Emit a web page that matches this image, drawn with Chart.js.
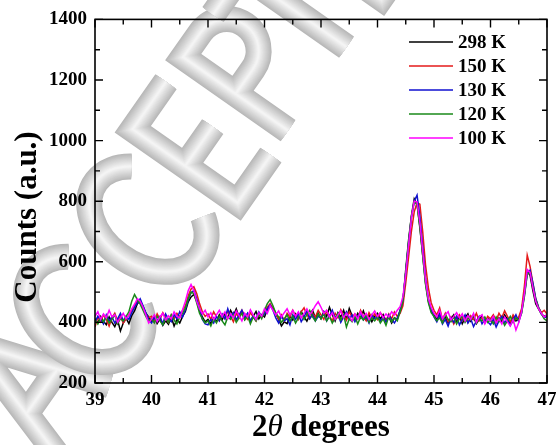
<!DOCTYPE html>
<html lang="en">
<head>
    <meta charset="UTF-8">
    <title>XRD 2theta scan</title>
    <script src="https://cdn.jsdelivr.net/npm/chart.js"></script>
    <style>
        html, body { margin: 0; padding: 0; background: #fff; }
        canvas { display: block; }
    </style>
</head>
<body>
    <canvas id="xrd" width="556" height="445"></canvas>
    <script>
        // scan positions (degrees 2theta)
        const twoTheta = [
            39.00, 39.05, 39.10, 39.15, 39.20, 39.25, 39.30, 39.35, 39.40, 39.45, 39.50, 39.55, 39.60, 39.65, 39.70, 39.75, 39.80, 39.85, 39.90, 39.95,
            40.00, 40.05, 40.10, 40.15, 40.20, 40.25, 40.30, 40.35, 40.40, 40.45, 40.50, 40.55, 40.60, 40.65, 40.70, 40.75, 40.80, 40.85, 40.90, 40.95,
            41.00, 41.05, 41.10, 41.15, 41.20, 41.25, 41.30, 41.35, 41.40, 41.45, 41.50, 41.55, 41.60, 41.65, 41.70, 41.75, 41.80, 41.85, 41.90, 41.95,
            42.00, 42.05, 42.10, 42.15, 42.20, 42.25, 42.30, 42.35, 42.40, 42.45, 42.50, 42.55, 42.60, 42.65, 42.70, 42.75, 42.80, 42.85, 42.90, 42.95,
            43.00, 43.05, 43.10, 43.15, 43.20, 43.25, 43.30, 43.35, 43.40, 43.45, 43.50, 43.55, 43.60, 43.65, 43.70, 43.75, 43.80, 43.85, 43.90, 43.95,
            44.00, 44.05, 44.10, 44.15, 44.20, 44.25, 44.30, 44.35, 44.40, 44.45, 44.50, 44.55, 44.60, 44.65, 44.70, 44.75, 44.80, 44.85, 44.90, 44.95,
            45.00, 45.05, 45.10, 45.15, 45.20, 45.25, 45.30, 45.35, 45.40, 45.45, 45.50, 45.55, 45.60, 45.65, 45.70, 45.75, 45.80, 45.85, 45.90, 45.95,
            46.00, 46.05, 46.10, 46.15, 46.20, 46.25, 46.30, 46.35, 46.40, 46.45, 46.50, 46.55, 46.60, 46.65, 46.70, 46.75, 46.80, 46.85, 46.90, 46.95,
            47.00
        ];

        const counts298 = [
            412, 398, 420, 404, 392, 418, 400, 386, 408, 372, 398, 414, 396, 422, 438, 462, 470, 452, 430, 418,
            402, 420, 396, 412, 390, 405, 394, 418, 388, 410, 398, 420, 436, 468, 484, 492, 470, 440, 418, 402,
            410, 396, 415, 402, 425, 408, 430, 415, 440, 422, 445, 418, 432, 410, 428, 404, 420, 436, 412, 426,
            418, 442, 455, 448, 430, 410, 388, 402, 396, 420, 408, 428, 412, 436, 418, 404, 425, 440, 415, 430,
            412, 436, 420, 450, 425, 405, 432, 418, 440, 410, 446, 422, 408, 430, 415, 438, 410, 425, 402, 420,
            430, 412, 426, 405, 420, 398, 415, 410, 440, 468, 575, 672, 752, 808, 790, 712, 622, 530, 470, 438,
            425, 410, 432, 405, 418, 398, 412, 425, 402, 420, 395, 415, 428, 404, 418, 396, 410, 422, 400, 414,
            405, 420, 398, 415, 402, 425, 410, 395, 418, 405, 412, 438, 495, 568, 555, 505, 462, 445, 428, 420,
            425
        ];
        const counts150 = [
            385, 418, 402, 425, 410, 388, 415, 430, 405, 420, 398, 412, 425, 440, 455, 472, 465, 448, 428, 415,
            420, 405, 428, 410, 432, 415, 400, 425, 412, 430, 418, 440, 455, 488, 510, 518, 495, 462, 435, 420,
            428, 410, 435, 418, 405, 425, 412, 438, 420, 402, 430, 415, 440, 422, 410, 432, 418, 405, 428, 415,
            435, 450, 462, 445, 428, 412, 425, 405, 430, 418, 440, 422, 410, 435, 448, 425, 412, 430, 418, 440,
            425, 410, 438, 420, 405, 430, 415, 442, 422, 408, 435, 418, 428, 412, 440, 420, 405, 432, 415, 428,
            410, 432, 418, 405, 428, 412, 435, 420, 430, 455, 530, 615, 700, 765, 795, 790, 700, 590, 515, 465,
            440, 425, 448, 410, 430, 402, 418, 395, 412, 425, 405, 418, 400, 422, 410, 430, 405, 415, 398, 420,
            412, 425, 405, 430, 415, 438, 420, 402, 425, 410, 418, 445, 520, 622, 585, 530, 478, 450, 432, 440,
            428
        ];
        const counts130 = [
            402, 420, 410, 395, 425, 405, 418, 398, 412, 430, 405, 420, 410, 432, 450, 465, 478, 455, 432, 410,
            398, 415, 405, 420, 395, 428, 410, 402, 425, 412, 435, 418, 442, 475, 498, 505, 478, 445, 410, 395,
            392, 410, 398, 420, 405, 428, 412, 445, 418, 432, 408, 425, 440, 415, 430, 405, 422, 412, 435, 420,
            428, 445, 458, 440, 415, 398, 420, 405, 412, 392, 425, 410, 430, 402, 418, 438, 412, 425, 405, 420,
            415, 430, 405, 422, 440, 412, 428, 400, 418, 435, 410, 425, 402, 420, 432, 408, 418, 398, 425, 412,
            420, 405, 418, 400, 425, 410, 398, 415, 438, 472, 565, 660, 745, 800, 820, 748, 650, 545, 478, 440,
            418, 402, 425, 395, 410, 388, 415, 400, 420, 392, 408, 425, 398, 412, 386, 405, 420, 395, 410, 402,
            392, 410, 385, 405, 420, 398, 412, 390, 408, 425, 402, 432, 490, 560, 572, 530, 480, 450, 428, 415,
            420
        ];
        const counts120 = [
            408, 395, 415, 402, 420, 398, 410, 425, 395, 412, 405, 420, 435, 470, 492, 475, 460, 440, 420, 405,
            412, 398, 420, 405, 392, 415, 400, 425, 408, 395, 418, 430, 448, 478, 500, 495, 465, 430, 412, 398,
            405, 388, 412, 398, 420, 405, 392, 418, 410, 425, 400, 415, 430, 408, 422, 395, 418, 405, 428, 412,
            440, 462, 475, 455, 430, 418, 400, 412, 425, 405, 420, 398, 415, 432, 410, 425, 440, 418, 405, 428,
            412, 428, 405, 420, 398, 415, 430, 408, 425, 385, 412, 402, 420, 395, 418, 408, 425, 400, 415, 405,
            418, 398, 412, 390, 420, 402, 415, 405, 435, 470, 565, 665, 750, 798, 790, 718, 620, 525, 465, 432,
            420, 405, 415, 398, 425, 410, 402, 418, 395, 412, 420, 400, 415, 408, 425, 398, 412, 405, 418, 400,
            410, 395, 418, 402, 412, 390, 405, 420, 400, 415, 408, 430, 485, 560, 565, 520, 475, 448, 430, 412,
            405
        ];
        const counts100 = [
            420, 435, 410, 428, 415, 440, 418, 425, 400, 415, 430, 412, 425, 445, 460, 478, 470, 450, 425, 398,
            410, 425, 402, 418, 430, 408, 422, 412, 435, 420, 415, 442, 470, 505, 525, 505, 470, 445, 428, 440,
            418, 432, 410, 425, 440, 420, 435, 412, 428, 415, 438, 422, 405, 430, 418, 442, 425, 410, 432, 420,
            445, 430, 455, 440, 425, 438, 418, 432, 445, 425, 440, 420, 435, 415, 430, 445, 425, 438, 455, 468,
            450, 430, 440, 418, 432, 410, 425, 438, 415, 430, 420, 405, 428, 412, 435, 418, 430, 410, 425, 438,
            420, 432, 415, 428, 418, 435, 425, 440, 452, 485, 560, 655, 745, 800, 798, 730, 635, 540, 478, 450,
            430, 418, 440, 412, 425, 435, 408, 420, 432, 415, 428, 405, 422, 410, 430, 400, 418, 425, 395, 412,
            405, 420, 398, 412, 395, 418, 402, 388, 410, 375, 400, 435, 495, 575, 565, 515, 470, 445, 430, 418,
            425
        ];

        const seriesLabels = ['298 K', '150 K', '130 K', '120 K', '100 K'];
        const seriesColors = ['#000000', '#e41a1a', '#1010d0', '#1a8a1a', '#ff00ff'];
        const seriesCounts = [counts298, counts150, counts130, counts120, counts100];

        const xTicks = [39, 40, 41, 42, 43, 44, 45, 46, 47];
        const yTicks = [200, 400, 600, 800, 1000, 1200, 1400];

        const serif = "'Liberation Serif', 'Times New Roman', serif";

        // gray "ACCEPTED" stamp behind the plot, drawn as shaded tubes
        function tube(ctx, path) {
            for (let w = 26, k = 0; w >= 2; w -= 2, k++) {
                const g = Math.round(0xb8 + k * 5);
                ctx.lineWidth = w;
                ctx.strokeStyle = 'rgb(' + g + ',' + g + ',' + g + ')';
                ctx.stroke(path);
            }
        }
        function letterA(x) {
            const p = new Path2D();
            p.moveTo(x, 0); p.lineTo(x + 44, -136); p.lineTo(x + 88, 0);
            p.moveTo(x + 18, -52); p.lineTo(x + 70, -52);
            return p;
        }
        function letterC(x) {
            const p = new Path2D();
            p.ellipse(x + 48, -64, 46, 64, 0, -0.75, 0.75, true);
            return p;
        }
        function letterE(x) {
            const p = new Path2D();
            p.moveTo(x + 58, -128); p.lineTo(x, -128); p.lineTo(x, 0); p.lineTo(x + 58, 0);
            p.moveTo(x, -64); p.lineTo(x + 48, -64);
            return p;
        }
        function letterP(x) {
            const p = new Path2D();
            p.moveTo(x, 0); p.lineTo(x, -128); p.lineTo(x + 30, -128);
            p.arc(x + 30, -96, 32, -Math.PI / 2, Math.PI / 2);
            p.lineTo(x, -64);
            return p;
        }
        function letterT(x) {
            const p = new Path2D();
            p.moveTo(x - 10, -128); p.lineTo(x + 90, -128);
            p.moveTo(x + 40, -128); p.lineTo(x + 40, 0);
            return p;
        }
        function letterD(x) {
            const p = new Path2D();
            p.moveTo(x, 0); p.lineTo(x, -128); p.lineTo(x + 30, -128);
            p.arc(x + 30, -64, 64, -Math.PI / 2, Math.PI / 2);
            p.lineTo(x, 0);
            return p;
        }

        const stampPlugin = {
            id: 'stamp',
            beforeDraw(chart) {
                const ctx = chart.ctx;
                ctx.save();
                ctx.fillStyle = '#ffffff';
                ctx.fillRect(0, 0, chart.width, chart.height);
                ctx.translate(42, 482);
                ctx.rotate(-55 * Math.PI / 180);
                ctx.lineJoin = 'miter';
                ctx.lineCap = 'butt';
                [letterA(30), letterC(118), letterC(228), letterE(341), letterP(429),
                 letterT(491), letterE(591), letterD(679)].forEach(p => tube(ctx, p));
                ctx.restore();
            }
        };

        // box, inward ticks on all four sides, legend and axis titles
        const framePlugin = {
            id: 'frame',
            afterDraw(chart) {
                const ctx = chart.ctx;
                const a = chart.chartArea;
                const xs = chart.scales.x, ys = chart.scales.y;
                ctx.save();
                ctx.strokeStyle = '#000';
                ctx.lineWidth = 1.6;
                ctx.strokeRect(a.left, a.top, a.right - a.left, a.bottom - a.top);

                ctx.lineWidth = 1.4;
                ctx.beginPath();
                for (let v = 39; v <= 47; v += 0.5) {
                    const px = xs.getPixelForValue(v);
                    const len = Number.isInteger(v) ? 8 : 5;
                    ctx.moveTo(px, a.bottom); ctx.lineTo(px, a.bottom - len);
                    ctx.moveTo(px, a.top); ctx.lineTo(px, a.top + len);
                }
                for (let v = 200; v <= 1400; v += 100) {
                    const py = ys.getPixelForValue(v);
                    const len = v % 200 === 0 ? 8 : 5;
                    ctx.moveTo(a.left, py); ctx.lineTo(a.left + len, py);
                    ctx.moveTo(a.right, py); ctx.lineTo(a.right - len, py);
                }
                ctx.stroke();

                // legend
                ctx.font = 'bold 19px ' + serif;
                ctx.textBaseline = 'middle';
                ctx.textAlign = 'left';
                seriesLabels.forEach((lab, i) => {
                    const y = 42 + i * 24;
                    ctx.strokeStyle = seriesColors[i];
                    ctx.lineWidth = 1.5;
                    ctx.beginPath();
                    ctx.moveTo(409, y); ctx.lineTo(453, y);
                    ctx.stroke();
                    ctx.fillStyle = '#000';
                    ctx.fillText(lab, 458, y + 1);
                });

                // y title
                ctx.save();
                ctx.translate(36, 217);
                ctx.rotate(-Math.PI / 2);
                ctx.textAlign = 'center';
                ctx.textBaseline = 'alphabetic';
                ctx.font = 'bold 31px ' + serif;
                ctx.fillText('Counts (a.u.)', 0, 0);
                ctx.restore();

                // x title: 2θ degrees
                ctx.textBaseline = 'alphabetic';
                ctx.textAlign = 'left';
                const parts = [['2', 'bold 31px ' + serif], ['\u03B8', 'italic 31px ' + serif], [' degrees', 'bold 31px ' + serif]];
                let total = 0;
                parts.forEach(p => { ctx.font = p[1]; total += ctx.measureText(p[0]).width; });
                let x = (a.left + a.right) / 2 - total / 2;
                parts.forEach(p => {
                    ctx.font = p[1];
                    ctx.fillText(p[0], x, 436);
                    x += ctx.measureText(p[0]).width;
                });
                ctx.restore();
            }
        };

        const datasets = seriesCounts.map((vals, i) => ({
            label: seriesLabels[i],
            data: twoTheta.map((t, k) => ({ x: t, y: vals[k] })),
            borderColor: seriesColors[i],
            borderWidth: 1.5,
            pointRadius: 0,
            tension: 0,
            fill: false,
            order: seriesCounts.length - i
        }));

        const tickFont = { family: serif, size: 19, weight: 'bold' };

        new Chart(document.getElementById('xrd'), {
            type: 'line',
            data: { datasets: datasets },
            options: {
                responsive: false,
                animation: false,
                devicePixelRatio: 1,
                layout: { padding: { top: 16, right: 9, left: 0, bottom: 0 } },
                plugins: { legend: { display: false }, tooltip: { enabled: false } },
                scales: {
                    x: {
                        type: 'linear', min: 39, max: 47,
                        grid: { display: false, drawTicks: false, tickLength: 0 }, border: { display: false },
                        afterBuildTicks: s => { s.ticks = xTicks.map(v => ({ value: v })); },
                        ticks: { color: '#000', font: tickFont, padding: 6, maxRotation: 0, callback: v => String(v) },
                        afterFit: s => { s.height = 62; s.paddingLeft = 0; s.paddingRight = 0; }
                    },
                    y: {
                        min: 200, max: 1400,
                        grid: { display: false, drawTicks: false, tickLength: 0 }, border: { display: false },
                        afterBuildTicks: s => { s.ticks = yTicks.map(v => ({ value: v })); },
                        ticks: { color: '#000', font: tickFont, padding: 8, callback: v => String(v) },
                        afterFit: s => { s.width = 95; }
                    }
                }
            },
            plugins: [stampPlugin, framePlugin]
        });
    </script>
</body>
</html>
